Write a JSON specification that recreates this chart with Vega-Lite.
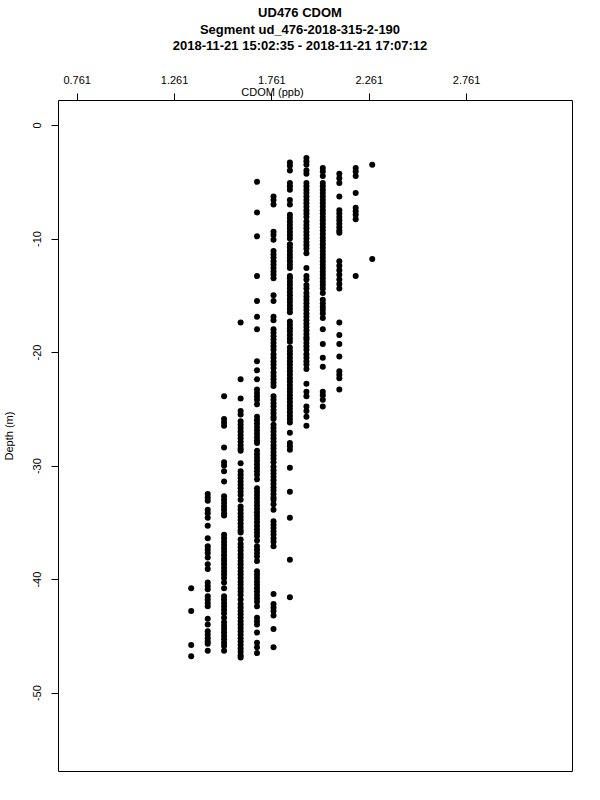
{
"$schema": "https://vega.github.io/schema/vega-lite/v6.json",
"width": 514,
"height": 671,
"autosize": {"type": "none"},
"padding": {"left": 58, "top": 100, "right": 28, "bottom": 29},
"background": "white",
"config": {"view": {"stroke": "black", "strokeWidth": 1}, "font": "Liberation Sans"},
"title": {"text": ["UD476 CDOM", "Segment ud_476-2018-315-2-190", "2018-11-21 15:02:35 - 2018-11-21 17:07:12"], "fontSize": 13, "fontWeight": "bold", "font": "Liberation Sans", "color": "black", "anchor": "middle", "frame": "group", "dx": -15, "offset": 21, "lineHeight": 16.5},
"data": {"values": [
{"cdom":1.349,"depth":-40.8},{"cdom":1.349,"depth":-42.8},{"cdom":1.349,"depth":-45.8},{"cdom":1.349,"depth":-46.8},
{"cdom":1.434,"depth":-32.5},{"cdom":1.434,"depth":-32.8},{"cdom":1.434,"depth":-33.1},{"cdom":1.434,"depth":-33.9},{"cdom":1.434,"depth":-34.2},{"cdom":1.434,"depth":-34.6},{"cdom":1.434,"depth":-35.3},{"cdom":1.434,"depth":-36.4},{"cdom":1.434,"depth":-37.1},{"cdom":1.434,"depth":-37.4},{"cdom":1.434,"depth":-37.7},{"cdom":1.434,"depth":-38.1},{"cdom":1.434,"depth":-38.7},{"cdom":1.434,"depth":-39.1},{"cdom":1.434,"depth":-40.3},{"cdom":1.434,"depth":-40.6},{"cdom":1.434,"depth":-40.9},{"cdom":1.434,"depth":-41.5},{"cdom":1.434,"depth":-41.8},{"cdom":1.434,"depth":-42.1},{"cdom":1.434,"depth":-42.4},{"cdom":1.434,"depth":-43.5},{"cdom":1.434,"depth":-44.0},{"cdom":1.434,"depth":-44.6},{"cdom":1.434,"depth":-44.9},{"cdom":1.434,"depth":-45.2},{"cdom":1.434,"depth":-45.5},{"cdom":1.434,"depth":-45.7},{"cdom":1.434,"depth":-46.3},
{"cdom":1.518,"depth":-23.9},{"cdom":1.518,"depth":-25.9},{"cdom":1.518,"depth":-26.2},{"cdom":1.518,"depth":-26.5},{"cdom":1.518,"depth":-28.4},{"cdom":1.518,"depth":-29.7},{"cdom":1.518,"depth":-30.0},{"cdom":1.518,"depth":-30.5},{"cdom":1.518,"depth":-31.4},{"cdom":1.518,"depth":-32.7},{"cdom":1.518,"depth":-33.0},{"cdom":1.518,"depth":-33.3},{"cdom":1.518,"depth":-33.6},{"cdom":1.518,"depth":-33.9},{"cdom":1.518,"depth":-34.2},{"cdom":1.518,"depth":-34.4},{"cdom":1.518,"depth":-36.1},{"cdom":1.518,"depth":-36.4},{"cdom":1.518,"depth":-36.7},{"cdom":1.518,"depth":-37.0},{"cdom":1.518,"depth":-37.3},{"cdom":1.518,"depth":-37.6},{"cdom":1.518,"depth":-37.9},{"cdom":1.518,"depth":-38.2},{"cdom":1.518,"depth":-38.4},{"cdom":1.518,"depth":-38.7},{"cdom":1.518,"depth":-39.0},{"cdom":1.518,"depth":-39.3},{"cdom":1.518,"depth":-39.6},{"cdom":1.518,"depth":-39.9},{"cdom":1.518,"depth":-40.3},{"cdom":1.518,"depth":-40.8},{"cdom":1.518,"depth":-41.5},{"cdom":1.518,"depth":-41.8},{"cdom":1.518,"depth":-42.1},{"cdom":1.518,"depth":-42.4},{"cdom":1.518,"depth":-42.7},{"cdom":1.518,"depth":-43.0},{"cdom":1.518,"depth":-43.4},{"cdom":1.518,"depth":-43.8},{"cdom":1.518,"depth":-44.1},{"cdom":1.518,"depth":-44.4},{"cdom":1.518,"depth":-44.7},{"cdom":1.518,"depth":-45.0},{"cdom":1.518,"depth":-45.3},{"cdom":1.518,"depth":-45.6},{"cdom":1.518,"depth":-45.9},{"cdom":1.518,"depth":-46.3},
{"cdom":1.603,"depth":-17.4},{"cdom":1.603,"depth":-22.4},{"cdom":1.603,"depth":-24.1},{"cdom":1.603,"depth":-25.2},{"cdom":1.603,"depth":-25.5},{"cdom":1.603,"depth":-26.1},{"cdom":1.603,"depth":-26.4},{"cdom":1.603,"depth":-26.7},{"cdom":1.603,"depth":-27.0},{"cdom":1.603,"depth":-27.3},{"cdom":1.603,"depth":-27.6},{"cdom":1.603,"depth":-27.9},{"cdom":1.603,"depth":-28.2},{"cdom":1.603,"depth":-28.5},{"cdom":1.603,"depth":-28.7},{"cdom":1.603,"depth":-29.8},{"cdom":1.603,"depth":-30.5},{"cdom":1.603,"depth":-30.8},{"cdom":1.603,"depth":-31.1},{"cdom":1.603,"depth":-31.4},{"cdom":1.603,"depth":-31.7},{"cdom":1.603,"depth":-32.0},{"cdom":1.603,"depth":-32.3},{"cdom":1.603,"depth":-32.6},{"cdom":1.603,"depth":-33.0},{"cdom":1.603,"depth":-33.6},{"cdom":1.603,"depth":-33.9},{"cdom":1.603,"depth":-34.2},{"cdom":1.603,"depth":-34.5},{"cdom":1.603,"depth":-34.8},{"cdom":1.603,"depth":-35.1},{"cdom":1.603,"depth":-35.4},{"cdom":1.603,"depth":-35.7},{"cdom":1.603,"depth":-35.9},{"cdom":1.603,"depth":-36.5},{"cdom":1.603,"depth":-36.9},{"cdom":1.603,"depth":-37.2},{"cdom":1.603,"depth":-37.5},{"cdom":1.603,"depth":-37.8},{"cdom":1.603,"depth":-38.1},{"cdom":1.603,"depth":-38.4},{"cdom":1.603,"depth":-38.7},{"cdom":1.603,"depth":-39.0},{"cdom":1.603,"depth":-39.3},{"cdom":1.603,"depth":-39.6},{"cdom":1.603,"depth":-39.9},{"cdom":1.603,"depth":-40.2},{"cdom":1.603,"depth":-40.5},{"cdom":1.603,"depth":-40.8},{"cdom":1.603,"depth":-41.1},{"cdom":1.603,"depth":-41.4},{"cdom":1.603,"depth":-41.8},{"cdom":1.603,"depth":-42.2},{"cdom":1.603,"depth":-42.5},{"cdom":1.603,"depth":-42.8},{"cdom":1.603,"depth":-43.1},{"cdom":1.603,"depth":-43.4},{"cdom":1.603,"depth":-43.7},{"cdom":1.603,"depth":-44.0},{"cdom":1.603,"depth":-44.3},{"cdom":1.603,"depth":-44.6},{"cdom":1.603,"depth":-44.9},{"cdom":1.603,"depth":-45.2},{"cdom":1.603,"depth":-45.5},{"cdom":1.603,"depth":-45.8},{"cdom":1.603,"depth":-46.1},{"cdom":1.603,"depth":-46.4},{"cdom":1.603,"depth":-46.7},{"cdom":1.603,"depth":-46.9},
{"cdom":1.687,"depth":-5.0},{"cdom":1.687,"depth":-7.7},{"cdom":1.687,"depth":-9.8},{"cdom":1.687,"depth":-13.3},{"cdom":1.687,"depth":-15.5},{"cdom":1.687,"depth":-16.9},{"cdom":1.687,"depth":-18.0},{"cdom":1.687,"depth":-20.8},{"cdom":1.687,"depth":-21.6},{"cdom":1.687,"depth":-22.4},{"cdom":1.687,"depth":-23.3},{"cdom":1.687,"depth":-23.6},{"cdom":1.687,"depth":-23.9},{"cdom":1.687,"depth":-24.2},{"cdom":1.687,"depth":-24.6},{"cdom":1.687,"depth":-25.7},{"cdom":1.687,"depth":-26.0},{"cdom":1.687,"depth":-26.3},{"cdom":1.687,"depth":-26.6},{"cdom":1.687,"depth":-26.9},{"cdom":1.687,"depth":-27.2},{"cdom":1.687,"depth":-27.5},{"cdom":1.687,"depth":-27.8},{"cdom":1.687,"depth":-28.0},{"cdom":1.687,"depth":-28.7},{"cdom":1.687,"depth":-29.0},{"cdom":1.687,"depth":-29.3},{"cdom":1.687,"depth":-29.6},{"cdom":1.687,"depth":-29.9},{"cdom":1.687,"depth":-30.2},{"cdom":1.687,"depth":-30.5},{"cdom":1.687,"depth":-30.8},{"cdom":1.687,"depth":-31.2},{"cdom":1.687,"depth":-32.0},{"cdom":1.687,"depth":-32.3},{"cdom":1.687,"depth":-32.6},{"cdom":1.687,"depth":-32.9},{"cdom":1.687,"depth":-33.2},{"cdom":1.687,"depth":-33.5},{"cdom":1.687,"depth":-33.8},{"cdom":1.687,"depth":-34.1},{"cdom":1.687,"depth":-34.4},{"cdom":1.687,"depth":-34.7},{"cdom":1.687,"depth":-35.0},{"cdom":1.687,"depth":-35.3},{"cdom":1.687,"depth":-35.6},{"cdom":1.687,"depth":-35.9},{"cdom":1.687,"depth":-36.2},{"cdom":1.687,"depth":-36.6},{"cdom":1.687,"depth":-37.1},{"cdom":1.687,"depth":-37.4},{"cdom":1.687,"depth":-37.7},{"cdom":1.687,"depth":-38.0},{"cdom":1.687,"depth":-38.4},{"cdom":1.687,"depth":-39.3},{"cdom":1.687,"depth":-39.6},{"cdom":1.687,"depth":-39.9},{"cdom":1.687,"depth":-40.2},{"cdom":1.687,"depth":-40.5},{"cdom":1.687,"depth":-40.8},{"cdom":1.687,"depth":-41.1},{"cdom":1.687,"depth":-41.4},{"cdom":1.687,"depth":-41.7},{"cdom":1.687,"depth":-42.0},{"cdom":1.687,"depth":-42.4},{"cdom":1.687,"depth":-43.4},{"cdom":1.687,"depth":-43.7},{"cdom":1.687,"depth":-44.0},{"cdom":1.687,"depth":-44.7},{"cdom":1.687,"depth":-45.6},{"cdom":1.687,"depth":-46.0},{"cdom":1.687,"depth":-46.5},
{"cdom":1.772,"depth":-6.3},{"cdom":1.772,"depth":-6.6},{"cdom":1.772,"depth":-7.0},{"cdom":1.772,"depth":-9.4},{"cdom":1.772,"depth":-9.7},{"cdom":1.772,"depth":-10.1},{"cdom":1.772,"depth":-11.1},{"cdom":1.772,"depth":-11.4},{"cdom":1.772,"depth":-11.7},{"cdom":1.772,"depth":-12.0},{"cdom":1.772,"depth":-12.3},{"cdom":1.772,"depth":-12.6},{"cdom":1.772,"depth":-12.9},{"cdom":1.772,"depth":-13.2},{"cdom":1.772,"depth":-13.5},{"cdom":1.772,"depth":-15.0},{"cdom":1.772,"depth":-15.5},{"cdom":1.772,"depth":-16.9},{"cdom":1.772,"depth":-17.2},{"cdom":1.772,"depth":-18.0},{"cdom":1.772,"depth":-18.3},{"cdom":1.772,"depth":-18.6},{"cdom":1.772,"depth":-18.9},{"cdom":1.772,"depth":-19.2},{"cdom":1.772,"depth":-19.5},{"cdom":1.772,"depth":-19.8},{"cdom":1.772,"depth":-20.2},{"cdom":1.772,"depth":-20.5},{"cdom":1.772,"depth":-20.8},{"cdom":1.772,"depth":-21.1},{"cdom":1.772,"depth":-21.4},{"cdom":1.772,"depth":-21.8},{"cdom":1.772,"depth":-22.1},{"cdom":1.772,"depth":-22.4},{"cdom":1.772,"depth":-22.7},{"cdom":1.772,"depth":-23.0},{"cdom":1.772,"depth":-23.9},{"cdom":1.772,"depth":-24.2},{"cdom":1.772,"depth":-24.5},{"cdom":1.772,"depth":-24.8},{"cdom":1.772,"depth":-25.1},{"cdom":1.772,"depth":-25.4},{"cdom":1.772,"depth":-25.7},{"cdom":1.772,"depth":-25.9},{"cdom":1.772,"depth":-26.4},{"cdom":1.772,"depth":-26.7},{"cdom":1.772,"depth":-27.0},{"cdom":1.772,"depth":-27.3},{"cdom":1.772,"depth":-27.6},{"cdom":1.772,"depth":-27.9},{"cdom":1.772,"depth":-28.2},{"cdom":1.772,"depth":-28.5},{"cdom":1.772,"depth":-28.8},{"cdom":1.772,"depth":-29.1},{"cdom":1.772,"depth":-29.4},{"cdom":1.772,"depth":-29.7},{"cdom":1.772,"depth":-30.1},{"cdom":1.772,"depth":-30.4},{"cdom":1.772,"depth":-30.7},{"cdom":1.772,"depth":-31.0},{"cdom":1.772,"depth":-31.3},{"cdom":1.772,"depth":-31.6},{"cdom":1.772,"depth":-31.9},{"cdom":1.772,"depth":-32.2},{"cdom":1.772,"depth":-32.5},{"cdom":1.772,"depth":-32.8},{"cdom":1.772,"depth":-33.0},{"cdom":1.772,"depth":-33.4},{"cdom":1.772,"depth":-33.9},{"cdom":1.772,"depth":-34.9},{"cdom":1.772,"depth":-35.2},{"cdom":1.772,"depth":-35.5},{"cdom":1.772,"depth":-35.8},{"cdom":1.772,"depth":-36.1},{"cdom":1.772,"depth":-36.4},{"cdom":1.772,"depth":-36.7},{"cdom":1.772,"depth":-37.1},{"cdom":1.772,"depth":-41.3},{"cdom":1.772,"depth":-42.2},{"cdom":1.772,"depth":-42.5},{"cdom":1.772,"depth":-42.8},{"cdom":1.772,"depth":-43.2},{"cdom":1.772,"depth":-44.4},{"cdom":1.772,"depth":-46.0},
{"cdom":1.856,"depth":-3.3},{"cdom":1.856,"depth":-3.6},{"cdom":1.856,"depth":-4.0},{"cdom":1.856,"depth":-5.1},{"cdom":1.856,"depth":-5.4},{"cdom":1.856,"depth":-5.7},{"cdom":1.856,"depth":-6.6},{"cdom":1.856,"depth":-7.0},{"cdom":1.856,"depth":-7.9},{"cdom":1.856,"depth":-8.2},{"cdom":1.856,"depth":-8.5},{"cdom":1.856,"depth":-8.8},{"cdom":1.856,"depth":-9.1},{"cdom":1.856,"depth":-9.4},{"cdom":1.856,"depth":-9.7},{"cdom":1.856,"depth":-10.0},{"cdom":1.856,"depth":-10.5},{"cdom":1.856,"depth":-10.8},{"cdom":1.856,"depth":-11.1},{"cdom":1.856,"depth":-11.4},{"cdom":1.856,"depth":-11.7},{"cdom":1.856,"depth":-12.0},{"cdom":1.856,"depth":-12.3},{"cdom":1.856,"depth":-12.6},{"cdom":1.856,"depth":-13.3},{"cdom":1.856,"depth":-13.5},{"cdom":1.856,"depth":-13.8},{"cdom":1.856,"depth":-14.1},{"cdom":1.856,"depth":-14.4},{"cdom":1.856,"depth":-14.7},{"cdom":1.856,"depth":-15.0},{"cdom":1.856,"depth":-15.3},{"cdom":1.856,"depth":-15.6},{"cdom":1.856,"depth":-15.9},{"cdom":1.856,"depth":-16.2},{"cdom":1.856,"depth":-16.5},{"cdom":1.856,"depth":-17.3},{"cdom":1.856,"depth":-17.6},{"cdom":1.856,"depth":-17.9},{"cdom":1.856,"depth":-18.2},{"cdom":1.856,"depth":-18.5},{"cdom":1.856,"depth":-18.8},{"cdom":1.856,"depth":-19.1},{"cdom":1.856,"depth":-19.6},{"cdom":1.856,"depth":-19.9},{"cdom":1.856,"depth":-20.2},{"cdom":1.856,"depth":-20.5},{"cdom":1.856,"depth":-20.8},{"cdom":1.856,"depth":-21.1},{"cdom":1.856,"depth":-21.4},{"cdom":1.856,"depth":-21.7},{"cdom":1.856,"depth":-22.0},{"cdom":1.856,"depth":-22.3},{"cdom":1.856,"depth":-22.6},{"cdom":1.856,"depth":-22.9},{"cdom":1.856,"depth":-23.2},{"cdom":1.856,"depth":-23.5},{"cdom":1.856,"depth":-23.8},{"cdom":1.856,"depth":-24.1},{"cdom":1.856,"depth":-24.4},{"cdom":1.856,"depth":-24.7},{"cdom":1.856,"depth":-25.0},{"cdom":1.856,"depth":-25.3},{"cdom":1.856,"depth":-25.6},{"cdom":1.856,"depth":-25.9},{"cdom":1.856,"depth":-26.2},{"cdom":1.856,"depth":-27.1},{"cdom":1.856,"depth":-28.0},{"cdom":1.856,"depth":-28.3},{"cdom":1.856,"depth":-28.6},{"cdom":1.856,"depth":-30.2},{"cdom":1.856,"depth":-32.3},{"cdom":1.856,"depth":-34.6},{"cdom":1.856,"depth":-38.3},{"cdom":1.856,"depth":-41.6},
{"cdom":1.941,"depth":-2.9},{"cdom":1.941,"depth":-3.2},{"cdom":1.941,"depth":-3.5},{"cdom":1.941,"depth":-4.0},{"cdom":1.941,"depth":-4.3},{"cdom":1.941,"depth":-5.1},{"cdom":1.941,"depth":-5.4},{"cdom":1.941,"depth":-5.7},{"cdom":1.941,"depth":-6.0},{"cdom":1.941,"depth":-6.3},{"cdom":1.941,"depth":-6.6},{"cdom":1.941,"depth":-6.9},{"cdom":1.941,"depth":-7.2},{"cdom":1.941,"depth":-7.5},{"cdom":1.941,"depth":-7.8},{"cdom":1.941,"depth":-8.1},{"cdom":1.941,"depth":-8.5},{"cdom":1.941,"depth":-8.8},{"cdom":1.941,"depth":-9.1},{"cdom":1.941,"depth":-9.4},{"cdom":1.941,"depth":-9.7},{"cdom":1.941,"depth":-10.0},{"cdom":1.941,"depth":-10.3},{"cdom":1.941,"depth":-10.6},{"cdom":1.941,"depth":-10.9},{"cdom":1.941,"depth":-11.3},{"cdom":1.941,"depth":-12.6},{"cdom":1.941,"depth":-13.3},{"cdom":1.941,"depth":-13.6},{"cdom":1.941,"depth":-14.1},{"cdom":1.941,"depth":-14.4},{"cdom":1.941,"depth":-14.8},{"cdom":1.941,"depth":-15.1},{"cdom":1.941,"depth":-15.4},{"cdom":1.941,"depth":-15.7},{"cdom":1.941,"depth":-16.0},{"cdom":1.941,"depth":-16.3},{"cdom":1.941,"depth":-16.6},{"cdom":1.941,"depth":-16.9},{"cdom":1.941,"depth":-17.2},{"cdom":1.941,"depth":-17.5},{"cdom":1.941,"depth":-17.8},{"cdom":1.941,"depth":-18.1},{"cdom":1.941,"depth":-18.4},{"cdom":1.941,"depth":-18.7},{"cdom":1.941,"depth":-18.9},{"cdom":1.941,"depth":-19.2},{"cdom":1.941,"depth":-19.5},{"cdom":1.941,"depth":-19.8},{"cdom":1.941,"depth":-20.2},{"cdom":1.941,"depth":-20.5},{"cdom":1.941,"depth":-20.8},{"cdom":1.941,"depth":-21.1},{"cdom":1.941,"depth":-21.5},{"cdom":1.941,"depth":-22.8},{"cdom":1.941,"depth":-23.5},{"cdom":1.941,"depth":-23.9},{"cdom":1.941,"depth":-24.8},{"cdom":1.941,"depth":-25.2},{"cdom":1.941,"depth":-25.7},{"cdom":1.941,"depth":-26.5},
{"cdom":2.025,"depth":-3.8},{"cdom":2.025,"depth":-4.1},{"cdom":2.025,"depth":-4.5},{"cdom":2.025,"depth":-5.1},{"cdom":2.025,"depth":-5.4},{"cdom":2.025,"depth":-5.7},{"cdom":2.025,"depth":-6.0},{"cdom":2.025,"depth":-6.3},{"cdom":2.025,"depth":-6.6},{"cdom":2.025,"depth":-6.9},{"cdom":2.025,"depth":-7.2},{"cdom":2.025,"depth":-7.5},{"cdom":2.025,"depth":-7.8},{"cdom":2.025,"depth":-8.1},{"cdom":2.025,"depth":-8.4},{"cdom":2.025,"depth":-8.7},{"cdom":2.025,"depth":-9.0},{"cdom":2.025,"depth":-9.3},{"cdom":2.025,"depth":-9.6},{"cdom":2.025,"depth":-9.9},{"cdom":2.025,"depth":-10.2},{"cdom":2.025,"depth":-10.5},{"cdom":2.025,"depth":-10.8},{"cdom":2.025,"depth":-11.1},{"cdom":2.025,"depth":-11.4},{"cdom":2.025,"depth":-11.7},{"cdom":2.025,"depth":-12.0},{"cdom":2.025,"depth":-12.3},{"cdom":2.025,"depth":-12.6},{"cdom":2.025,"depth":-12.9},{"cdom":2.025,"depth":-13.2},{"cdom":2.025,"depth":-13.5},{"cdom":2.025,"depth":-13.8},{"cdom":2.025,"depth":-14.1},{"cdom":2.025,"depth":-14.4},{"cdom":2.025,"depth":-14.8},{"cdom":2.025,"depth":-15.4},{"cdom":2.025,"depth":-15.7},{"cdom":2.025,"depth":-16.0},{"cdom":2.025,"depth":-16.3},{"cdom":2.025,"depth":-16.6},{"cdom":2.025,"depth":-17.0},{"cdom":2.025,"depth":-18.0},{"cdom":2.025,"depth":-19.3},{"cdom":2.025,"depth":-20.5},{"cdom":2.025,"depth":-21.3},{"cdom":2.025,"depth":-23.5},{"cdom":2.025,"depth":-23.8},{"cdom":2.025,"depth":-24.2},{"cdom":2.025,"depth":-24.8},
{"cdom":2.110,"depth":-4.3},{"cdom":2.110,"depth":-4.7},{"cdom":2.110,"depth":-5.1},{"cdom":2.110,"depth":-6.3},{"cdom":2.110,"depth":-7.5},{"cdom":2.110,"depth":-7.8},{"cdom":2.110,"depth":-8.1},{"cdom":2.110,"depth":-8.4},{"cdom":2.110,"depth":-8.7},{"cdom":2.110,"depth":-9.0},{"cdom":2.110,"depth":-9.3},{"cdom":2.110,"depth":-9.5},{"cdom":2.110,"depth":-12.0},{"cdom":2.110,"depth":-12.4},{"cdom":2.110,"depth":-12.8},{"cdom":2.110,"depth":-13.2},{"cdom":2.110,"depth":-13.6},{"cdom":2.110,"depth":-14.0},{"cdom":2.110,"depth":-14.4},{"cdom":2.110,"depth":-17.4},{"cdom":2.110,"depth":-18.5},{"cdom":2.110,"depth":-19.3},{"cdom":2.110,"depth":-20.4},{"cdom":2.110,"depth":-21.7},{"cdom":2.110,"depth":-22.0},{"cdom":2.110,"depth":-22.3},{"cdom":2.110,"depth":-23.3},
{"cdom":2.194,"depth":-3.8},{"cdom":2.194,"depth":-4.1},{"cdom":2.194,"depth":-4.5},{"cdom":2.194,"depth":-6.0},{"cdom":2.194,"depth":-7.3},{"cdom":2.194,"depth":-7.6},{"cdom":2.194,"depth":-7.9},{"cdom":2.194,"depth":-8.3},{"cdom":2.194,"depth":-13.3},
{"cdom":2.279,"depth":-3.5},{"cdom":2.279,"depth":-11.8}
]},
"mark": {"type": "point", "filled": true, "shape": "circle", "size": 36, "color": "black", "opacity": 1},
"encoding": {
"x": {"field": "cdom", "type": "quantitative", "scale": {"domain": [0.665, 3.305], "nice": false, "zero": false},
 "axis": {"orient": "top", "values": [0.761, 1.261, 1.761, 2.261, 2.761], "format": ".3f", "title": "CDOM (ppb)", "grid": false, "domain": false, "tickSize": 7, "tickColor": "black", "labelColor": "black", "labelFontSize": 11, "labelPadding": 8, "labelFont": "Liberation Sans", "titleFont": "Liberation Sans", "titleFontSize": 11, "titleFontWeight": "normal", "titleX": 214, "titleY": -2.5, "titleBaseline": "bottom", "titleAlign": "center", "titleColor": "black"}},
"y": {"field": "depth", "type": "quantitative", "scale": {"domain": [-56.9, 2.2], "nice": false, "zero": false},
 "axis": {"values": [0, -10, -20, -30, -40, -50], "labelExpr": "toString(datum.value)", "title": "Depth (m)", "grid": false, "domain": false, "tickSize": 7, "tickColor": "black", "labelColor": "black", "labelAngle": 270, "labelAlign": "center", "labelBaseline": "bottom", "labelPadding": 9, "labelFontSize": 11, "labelFont": "Liberation Sans", "titleFont": "Liberation Sans", "titleFontSize": 11, "titleFontWeight": "normal", "titleColor": "black", "titlePadding": 17}}
}
}
